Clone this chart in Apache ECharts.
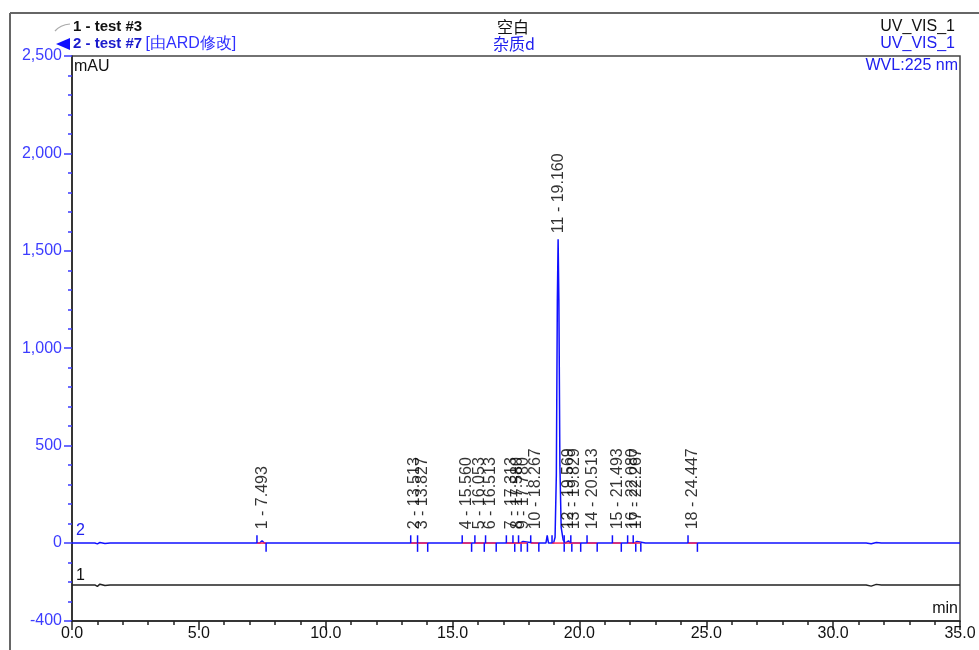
<!DOCTYPE html>
<html>
<head>
<meta charset="utf-8">
<script src="https://cdn.jsdelivr.net/npm/echarts@6/dist/echarts.min.js"></script>
<style>
html,body{margin:0;padding:0;background:#fff;}
#c{width:979px;height:650px;}
</style>
</head>
<body>
<div id="c"></div>
<script>
// ---- data ----
const peakNums   = [1, 2, 3, 4, 5, 6, 7, 8, 9, 10, 11, 12, 13, 14, 15, 16, 17, 18];
const peakTimes  = [7.493, 13.513, 13.827, 15.560, 16.053, 16.513, 17.313, 17.580, 17.780, 18.267, 19.160, 19.569, 19.829, 20.513, 21.493, 22.080, 22.267, 24.447];
const peakHeights= [12, 10, 8, 10, 8, 8, 10, 8, 8, 8, 1560, 12, 10, 8, 8, 8, 8, 10];
const peakStarts = [7.29, 13.35, 13.62, 15.38, 15.88, 16.30, 17.12, 17.38, 17.60, 18.08, 18.92, 19.40, 19.66, 20.30, 21.30, 21.90, 22.12, 24.28];
const peakEnds   = [7.65, 13.62, 14.02, 15.75, 16.25, 16.72, 17.45, 17.70, 17.95, 18.40, 19.40, 19.70, 20.05, 20.70, 21.65, 22.22, 22.42, 24.65];
const trace2 = [
  [0,0],[0.5,0],[0.9,0],[1.0,-4],[1.1,3],[1.3,-2],[1.5,0],[3,0],[5,0],[7.0,0],
  [7.40,0],[7.49,12],[7.58,0],[9,0],[11,0],[13,0],
  [13.45,0],[13.51,10],[13.58,0],[13.76,0],[13.83,8],[13.90,0],[14.5,0],[15.2,0],
  [15.50,0],[15.56,10],[15.63,0],[15.99,0],[16.05,8],[16.12,0],[16.45,0],[16.51,8],[16.58,0],[16.9,0],
  [17.25,0],[17.31,10],[17.38,0],[17.52,0],[17.58,8],[17.65,0],[17.72,0],[17.78,8],[17.85,0],
  [18.20,0],[18.27,8],[18.34,0],[18.68,0],[18.73,40],[18.78,0],
  [18.98,0],[19.04,30],[19.09,350],[19.13,1250],[19.16,1560],[19.19,1250],[19.23,400],[19.28,80],[19.36,15],[19.45,0],
  [19.52,0],[19.57,12],[19.63,0],[19.78,0],[19.83,10],[19.90,0],[20.2,0],
  [20.45,0],[20.51,8],[20.58,0],[21.0,0],[21.43,0],[21.49,8],[21.56,0],[21.8,0],
  [22.02,0],[22.08,8],[22.14,0],[22.21,0],[22.27,8],[22.33,0],[22.6,0],[23.0,0],[23.5,0],[24.0,0],
  [24.38,0],[24.45,10],[24.52,0],[25,0],[27,0],[29,0],
  [31.3,0],[31.5,-4],[31.7,3],[31.9,0],[33,0],[35,0]
];
const trace1 = [
  [0,-215],[0.9,-215],[1.0,-222],[1.1,-211],[1.3,-218],[1.5,-215],[10,-215],[20,-215],
  [31.3,-215],[31.5,-221],[31.7,-212],[31.9,-215],[35,-215]
];
const yTickLabels = [-400, 0, 500, 1000, 1500, 2000, 2500];
const xTickLabels = [0, 5, 10, 15, 20, 25, 30, 35];

const FONT = '"Liberation Sans", Arial, sans-serif';
const BLUE = '#1010ff';
const LBLUE = '#3c3cff';

const chart = echarts.init(document.getElementById('c'), null, {renderer: 'canvas'});

const labelData = peakTimes.map((t, i) => ({
  value: [t, peakHeights[i] > 100 ? peakHeights[i] : 40],
  name: peakNums[i] + ' - ' + t.toFixed(3)
}));

const delimData = peakTimes.map((t, i) => [peakStarts[i], peakEnds[i]]);

const option = {
  animation: false,
  backgroundColor: '#fff',
  grid: {left: 72, right: 19, top: 56, bottom: 29, show: true, borderColor: '#444', borderWidth: 1.5, backgroundColor: 'transparent'},
  xAxis: {
    type: 'value', min: 0, max: 35, interval: 5,
    axisLine: {show: true, onZero: false, lineStyle: {color: '#222', width: 1.5}},
    axisTick: {show: true, length: 9, lineStyle: {color: '#222', width: 1.5}},
    minorTick: {show: true, splitNumber: 5, length: 4, lineStyle: {color: '#222', width: 1.5}},
    splitLine: {show: false},
    axisLabel: {
      show: true, margin: 5, color: '#111', fontSize: 16, fontFamily: FONT,
      customValues: xTickLabels,
      formatter: v => v.toFixed(1)
    }
  },
  yAxis: [{
    type: 'value', min: -400, max: 2500, interval: 100,
    axisLine: {show: true, onZero: false, lineStyle: {color: '#222', width: 1.5}},
    axisTick: {show: true, length: 8, customValues: yTickLabels, lineStyle: {color: LBLUE, width: 1.5}},
    splitLine: {show: false},
    axisLabel: {
      show: true, margin: 10, color: LBLUE, fontSize: 16, fontFamily: FONT,
      customValues: yTickLabels,
      formatter: v => v.toLocaleString('en-US')
    }
  }, {
    type: 'value', min: -400, max: 2500, interval: 100, position: 'left',
    axisLine: {show: false, onZero: false},
    axisTick: {show: true, length: 4, lineStyle: {color: LBLUE, width: 1.5}},
    axisLabel: {show: false},
    splitLine: {show: false}
  }],
  series: [
    {
      type: 'line', name: '1 - test #3', data: trace1, showSymbol: false, symbol: 'none',
      lineStyle: {color: '#222', width: 1.5}, z: 2
    },
    {
      type: 'line', name: '2 - test #7', data: trace2, showSymbol: false, symbol: 'none',
      lineStyle: {color: BLUE, width: 1.5}, z: 3
    },
    {
      type: 'custom', name: 'delimiters', data: delimData, z: 4,
      renderItem: function (params, api) {
        const s = api.value(0), e = api.value(1);
        const p0 = api.coord([s, 0]);
        const pUp = api.coord([s, 40]);
        const p1 = api.coord([e, 0]);
        const pDn = api.coord([e, -45]);
        return {
          type: 'group',
          children: [
            {type: 'line', shape: {x1: p0[0], y1: p0[1], x2: p1[0], y2: p1[1]}, style: {stroke: '#ff2a55', lineWidth: 1.5}},
            {type: 'line', shape: {x1: p0[0], y1: p0[1], x2: pUp[0], y2: pUp[1]}, style: {stroke: BLUE, lineWidth: 1.5}},
            {type: 'line', shape: {x1: p1[0], y1: p1[1], x2: pDn[0], y2: pDn[1]}, style: {stroke: BLUE, lineWidth: 1.5}}
          ]
        };
      }
    },
    {
      type: 'scatter', name: 'peak labels', data: labelData, symbolSize: 0, z: 5,
      label: {
        show: true, position: 'top', distance: 6, rotate: 90, align: 'left', verticalAlign: 'middle',
        formatter: p => p.name, color: '#000', fontSize: 16, fontFamily: FONT
      }
    }
  ],
  graphic: [
    // outer frame
    {type: 'line', shape: {x1: 10, y1: 13, x2: 979, y2: 13}, style: {stroke: '#666', lineWidth: 2}},
    {type: 'line', shape: {x1: 10, y1: 13, x2: 10, y2: 650}, style: {stroke: '#666', lineWidth: 2}},
    // legend symbols
    {type: 'bezierCurve', shape: {x1: 55, y1: 31, cpx1: 60, cpy1: 25, x2: 70, y2: 24}, style: {stroke: '#aaa', lineWidth: 1.2, fill: null}},
    {type: 'polygon', shape: {points: [[56, 44], [70, 38], [70, 50]]}, style: {fill: BLUE}},
    // header texts
    {type: 'text', left: 73, top: 19, style: {text: '1 - test #3', fill: '#111', font: 'bold 15px ' + FONT}},
    {type: 'text', left: 73, top: 36, style: {rich: {a: {fill: '#1a1acc', font: 'bold 15px ' + FONT}, b: {fill: '#3030ff', font: '16px ' + FONT}}, text: '{a|2 - test #7} {b|[由ARD修改]}'}},
    {type: 'text', left: 497, top: 19, style: {text: '空白', fill: '#111', font: '16px "Noto Sans CJK SC", ' + FONT}},
    {type: 'text', left: 493, top: 36, style: {text: '杂质d', fill: '#2020ee', font: '16px "Noto Sans CJK SC", ' + FONT}},
    {type: 'text', right: 24, top: 19, style: {text: 'UV_VIS_1', fill: '#111', font: '16px ' + FONT}},
    {type: 'text', right: 24, top: 36, style: {text: 'UV_VIS_1', fill: '#2020ee', font: '16px ' + FONT}},
    {type: 'text', right: 21, top: 58, style: {text: 'WVL:225 nm', fill: '#2020ee', font: '16px ' + FONT}},
    {type: 'text', left: 74, top: 59, style: {text: 'mAU', fill: '#111', font: '16px ' + FONT}},
    {type: 'text', right: 21, top: 601, style: {text: 'min', fill: '#111', font: '16px ' + FONT}},
    {type: 'text', left: 76, top: 523, style: {text: '2', fill: '#2020ee', font: '16px ' + FONT}},
    {type: 'text', left: 76, top: 568, style: {text: '1', fill: '#111', font: '16px ' + FONT}}
  ]
};
chart.setOption(option);
</script>
</body>
</html>
